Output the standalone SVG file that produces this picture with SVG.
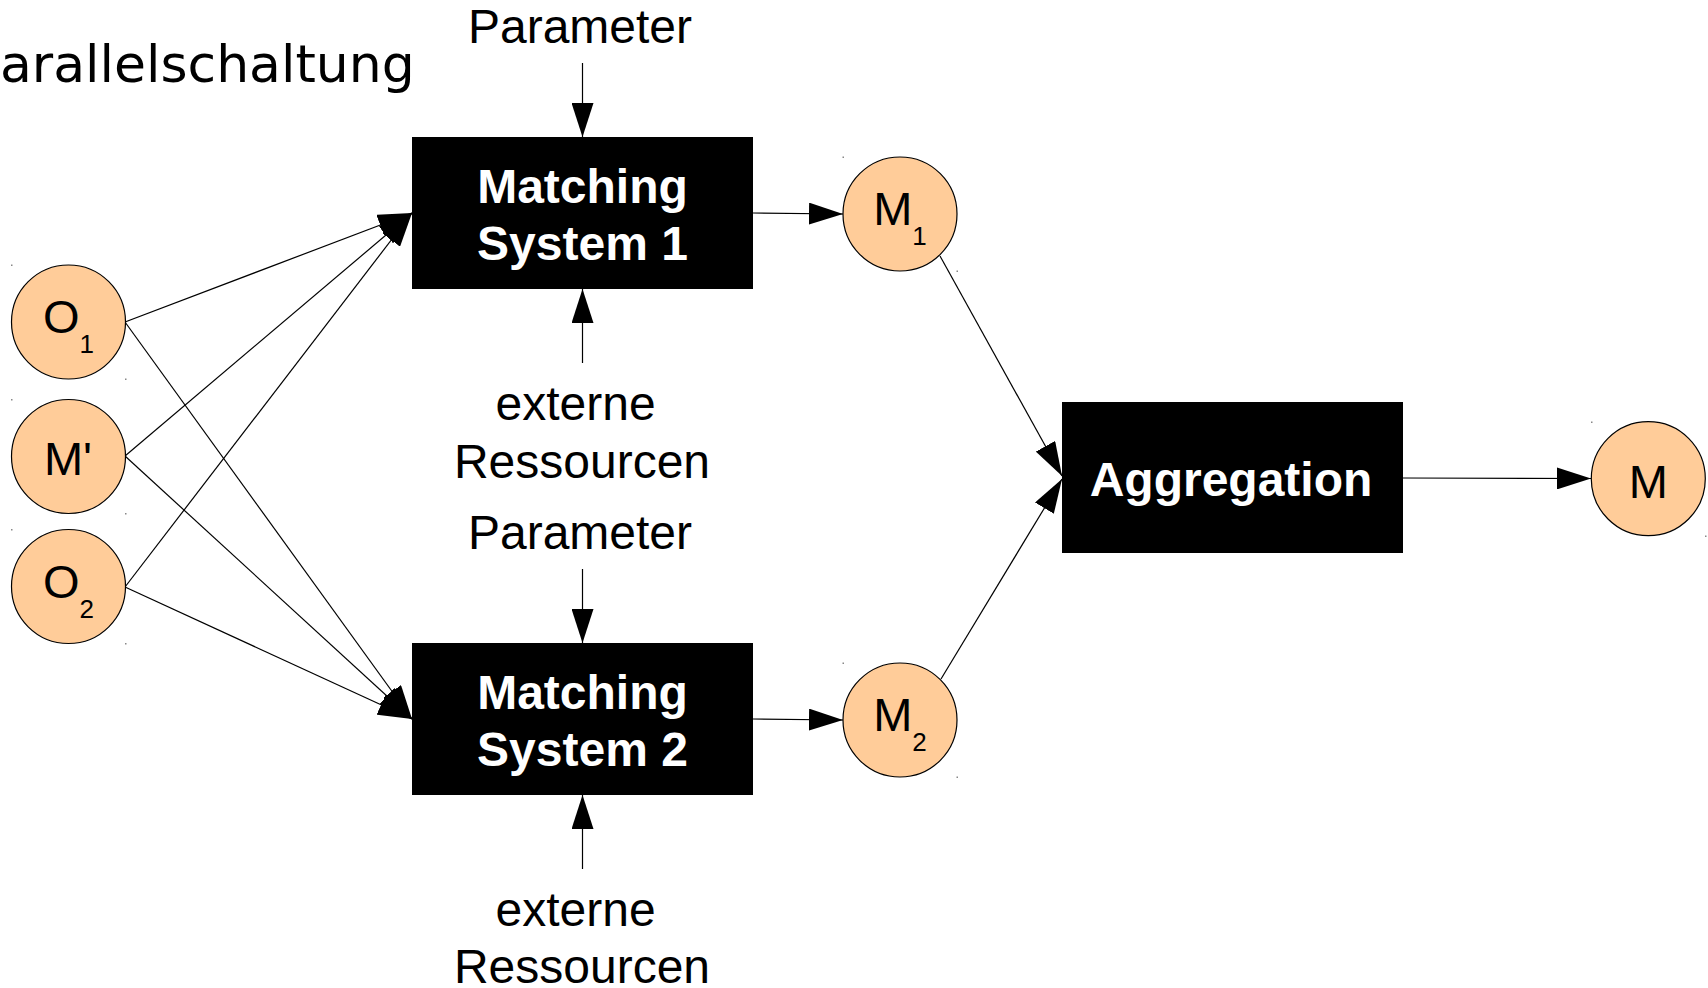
<svg xmlns="http://www.w3.org/2000/svg" width="1708" height="988" viewBox="0 0 1708 988">
  <defs>
    <marker id="arrow" markerUnits="userSpaceOnUse" markerWidth="34" markerHeight="22" refX="34" refY="11" orient="auto">
      <path d="M0,0 L34,11 L0,22 z" fill="#000"/>
    </marker>
    <style>
      .lbl { font-family: "Liberation Sans", Arial, sans-serif; font-size: 48px; fill: #000; }
      .box { fill: #000; }
      .boxtxt { font-family: "Liberation Sans", Arial, sans-serif; font-size: 48px; font-weight: bold; fill: #fff; text-anchor: middle; }
      .circ { fill: #ffcc99; stroke: #000; stroke-width: 1.2; }
      .ctxt { font-family: "Liberation Sans", Arial, sans-serif; font-size: 47px; fill: #000; text-anchor: middle; }
      .sub { font-size: 26px; }
      .edge { stroke: #000; stroke-width: 1.2; fill: none; marker-end: url(#arrow); }
      .dot { fill: #888; }
    </style>
  </defs>
  <rect width="1708" height="988" fill="#fff"/>

  <text x="0" y="82" font-family="DejaVu Sans, sans-serif" font-size="52">arallelschaltung</text>

  <!-- connectors -->
  <g id="connectors">
    <line class="edge" x1="582.5" y1="63" x2="582.5" y2="137"/>
    <line class="edge" x1="582.5" y1="363" x2="582.5" y2="289"/>
    <line class="edge" x1="582.5" y1="569" x2="582.5" y2="643"/>
    <line class="edge" x1="582.5" y1="869" x2="582.5" y2="795"/>
    <line class="edge" x1="125" y1="322" x2="412" y2="213"/>
    <line class="edge" x1="125" y1="456" x2="412" y2="213"/>
    <line class="edge" x1="125" y1="587" x2="412" y2="213"/>
    <line class="edge" x1="125" y1="322" x2="412" y2="719"/>
    <line class="edge" x1="125" y1="456" x2="412" y2="719"/>
    <line class="edge" x1="125" y1="587" x2="412" y2="719"/>
    <line class="edge" x1="753" y1="213" x2="843" y2="214"/>
    <line class="edge" x1="753" y1="719" x2="843" y2="720"/>
    <line class="edge" x1="940" y1="256" x2="1062" y2="476"/>
    <line class="edge" x1="941" y1="679" x2="1062" y2="479"/>
    <line class="edge" x1="1403" y1="478" x2="1591" y2="478.5"/>
  </g>

  <!-- labels around the matching systems -->
  <g id="param1"><text class="lbl" x="580" y="43" text-anchor="middle">Parameter</text></g>
  <g id="ext1">
    <text class="lbl" x="575.6" y="420" text-anchor="middle">externe</text>
    <text class="lbl" x="582" y="478" text-anchor="middle">Ressourcen</text>
  </g>
  <g id="param2"><text class="lbl" x="580" y="549" text-anchor="middle">Parameter</text></g>
  <g id="ext2">
    <text class="lbl" x="575.6" y="926" text-anchor="middle">externe</text>
    <text class="lbl" x="582" y="983" text-anchor="middle">Ressourcen</text>
  </g>

  <!-- processing boxes -->
  <g id="ms1">
    <rect class="box" x="412" y="137" width="341" height="152"/>
    <text class="boxtxt" x="582.5" y="203">Matching</text>
    <text class="boxtxt" x="582.5" y="260">System 1</text>
  </g>
  <g id="ms2">
    <rect class="box" x="412" y="643" width="341" height="152"/>
    <text class="boxtxt" x="582.5" y="709">Matching</text>
    <text class="boxtxt" x="582.5" y="766">System 2</text>
  </g>
  <g id="agg">
    <rect class="box" x="1062" y="402" width="341" height="151"/>
    <text class="boxtxt" x="1231" y="496">Aggregation</text>
  </g>

  <!-- data nodes -->
  <g id="o1">
    <circle class="circ" cx="68.5" cy="322" r="57"/>
    <text class="ctxt" x="68.5" y="333">O<tspan class="sub" dy="20">1</tspan></text>
  </g>
  <g id="mprime">
    <circle class="circ" cx="68.5" cy="456.5" r="57"/>
    <text class="ctxt" x="68" y="475">M'</text>
  </g>
  <g id="o2">
    <circle class="circ" cx="68.5" cy="586.5" r="57"/>
    <text class="ctxt" x="68.5" y="598">O<tspan class="sub" dy="20">2</tspan></text>
  </g>
  <g id="m1">
    <circle class="circ" cx="900" cy="214" r="57"/>
    <text class="ctxt" x="900" y="225">M<tspan class="sub" dy="20">1</tspan></text>
  </g>
  <g id="m2">
    <circle class="circ" cx="900" cy="720" r="57"/>
    <text class="ctxt" x="900" y="731">M<tspan class="sub" dy="20">2</tspan></text>
  </g>
  <g id="m">
    <circle class="circ" cx="1648.3" cy="478.7" r="57"/>
    <text class="ctxt" x="1648.3" y="498">M</text>
  </g>

  <!-- bounding-box corner specks -->
  <g id="specks">
    <rect class="dot" x="11" y="264.5" width="1.5" height="1.5"/>
    <rect class="dot" x="125" y="378.5" width="1.5" height="1.5"/>
    <rect class="dot" x="11" y="399" width="1.5" height="1.5"/>
    <rect class="dot" x="125" y="513" width="1.5" height="1.5"/>
    <rect class="dot" x="11" y="529" width="1.5" height="1.5"/>
    <rect class="dot" x="125" y="643" width="1.5" height="1.5"/>
    <rect class="dot" x="842.5" y="156.5" width="1.5" height="1.5"/>
    <rect class="dot" x="956.5" y="270.5" width="1.5" height="1.5"/>
    <rect class="dot" x="842.5" y="662.5" width="1.5" height="1.5"/>
    <rect class="dot" x="956.5" y="776.5" width="1.5" height="1.5"/>
    <rect class="dot" x="1591" y="421.5" width="1.5" height="1.5"/>
    <rect class="dot" x="1705" y="535.5" width="1.5" height="1.5"/>
  </g>
</svg>
